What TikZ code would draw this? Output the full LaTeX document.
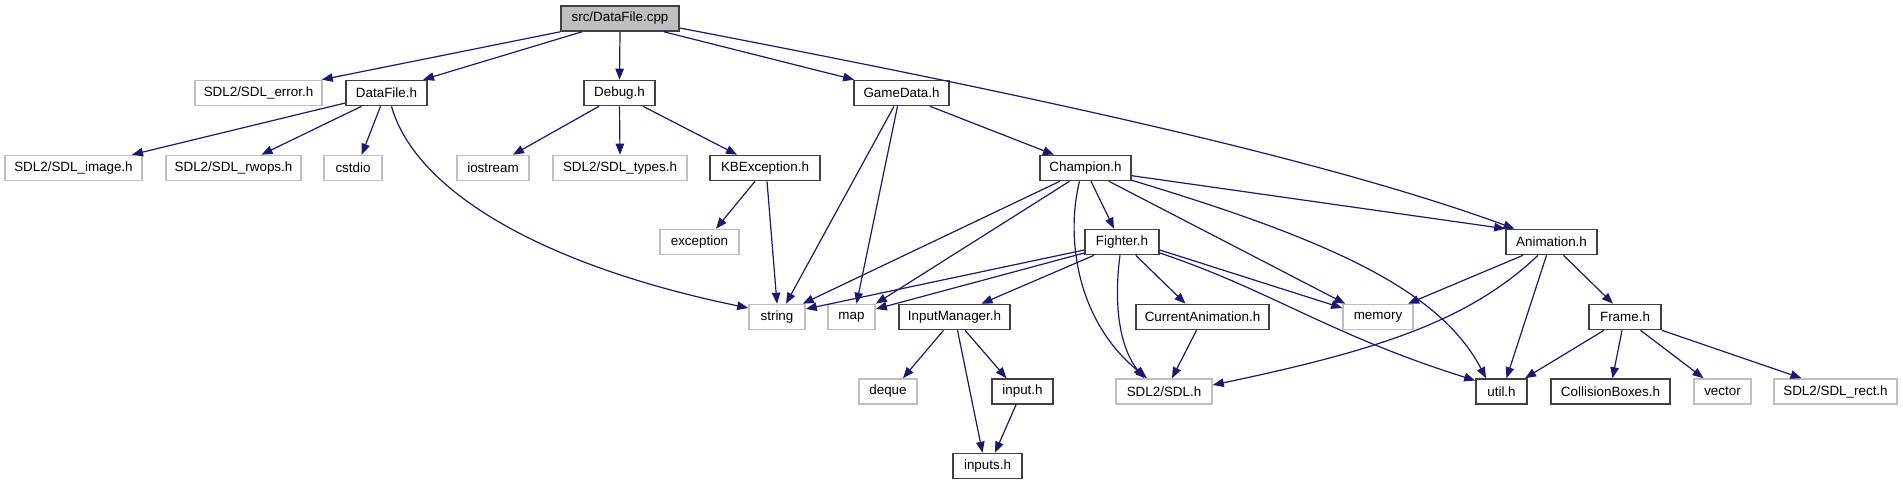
\documentclass[tikz,border=0pt]{standalone}
\usepackage{fontspec}
\setmainfont{Liberation Sans}
\usetikzlibrary{arrows.meta}
\definecolor{edgeblue}{HTML}{191970}
\definecolor{lgray}{HTML}{BFBFBF}
\definecolor{dgray}{HTML}{404040}
\begin{document}
\begin{tikzpicture}[x=1pt,y=-1pt,
  box/.style={rectangle,inner sep=0pt,minimum height=25pt,line width=1.6pt,
    font=\fontsize{13.4}{15}\selectfont,text=black},
  inc/.style={box,draw=dgray,fill=white},
  ext/.style={box,draw=lgray,fill=white},
  rootbox/.style={box,draw=dgray,fill=lgray},
  dep/.style={draw=edgeblue,line width=1.2pt,-{Triangle[length=11pt,width=8.5pt]},color=edgeblue}]
\useasboundingbox (0,0) rectangle (1903,485);
% row 1
\node[rootbox,minimum width=118pt] (root) at (620,18.5) {src/DataFile.cpp};
% row 2
\node[ext,minimum width=127pt] (err) at (258.5,93) {SDL2/SDL\_error.h};
\node[inc,minimum width=81pt] (dfh) at (386.5,93) {DataFile.h};
\node[inc,minimum width=71pt] (dbg) at (619.5,93) {Debug.h};
\node[inc,minimum width=95pt] (gd) at (901.5,93) {GameData.h};
% row 3
\node[ext,minimum width=137pt] (img) at (73.5,168) {SDL2/SDL\_image.h};
\node[ext,minimum width=135pt] (rw) at (233.5,168) {SDL2/SDL\_rwops.h};
\node[ext,minimum width=58pt] (cst) at (353,168) {cstdio};
\node[ext,minimum width=72pt] (ios) at (493,168) {iostream};
\node[ext,minimum width=134pt] (typ) at (620,168) {SDL2/SDL\_types.h};
\node[inc,minimum width=110pt] (kbe) at (765,168) {KBException.h};
\node[inc,minimum width=91pt] (chp) at (1085.5,168) {Champion.h};
% row 4
\node[ext,minimum width=79pt] (exc) at (699.5,242) {exception};
\node[inc,minimum width=74pt] (fgt) at (1122,242) {Fighter.h};
\node[inc,minimum width=91pt] (anim) at (1551.5,242) {Animation.h};
% row 5
\node[ext,minimum width=56pt] (str) at (777,317) {string};
\node[ext,minimum width=47pt] (map) at (851.5,317) {map};
\node[inc,minimum width=111pt] (inm) at (954.5,317) {InputManager.h};
\node[inc,minimum width=133pt] (cur) at (1202.5,317) {CurrentAnimation.h};
\node[ext,minimum width=70pt] (mem) at (1378,317) {memory};
\node[inc,minimum width=72pt] (frm) at (1625,317) {Frame.h};
% row 6
\node[ext,minimum width=58pt] (deq) at (888,391.5) {deque};
\node[inc,minimum width=61pt] (inp) at (1022.5,391.5) {input.h};
\node[ext,minimum width=96pt] (sdl) at (1164,391.5) {SDL2/SDL.h};
\node[inc,minimum width=51pt] (utl) at (1501.5,391.5) {util.h};
\node[inc,minimum width=119pt] (cbx) at (1610.5,391.5) {CollisionBoxes.h};
\node[ext,minimum width=57pt] (vec) at (1722.5,391.5) {vector};
\node[ext,minimum width=123pt] (rct) at (1835.5,391.5) {SDL2/SDL\_rect.h};
% row 7
\node[inc,minimum width=69pt] (ins) at (987.5,466) {inputs.h};

% edges from src/DataFile.cpp
\draw[dep] (root.south west) -- ([xshift=-1pt]err.north east);
\draw[dep] ([xshift=-38pt]root.south) -- ([xshift=36.5pt]dfh.north);
\draw[dep] (root.south) -- (dbg.north);
\draw[dep] ([xshift=44pt]root.south) -- ([xshift=1pt]gd.north west);
\draw[dep] ([yshift=-9.5pt]root.east) .. controls (950,80) and (1300,150) .. ([xshift=-37pt]anim.north);
% DataFile.h
\draw[dep] ([yshift=-10pt]dfh.west) -- ([xshift=58.5pt]img.north);
\draw[dep] ([xshift=-25pt]dfh.south) -- ([xshift=28pt]rw.north);
\draw[dep] ([xshift=-6pt]dfh.south) -- ([xshift=8.7pt]cst.north);
\draw[dep] ([xshift=5pt]dfh.south) .. controls (415,190) and (540,265) .. ([yshift=9pt]str.west);
% Debug.h
\draw[dep] ([xshift=-20.5pt]dbg.south) -- ([xshift=20pt]ios.north);
\draw[dep] (dbg.south) -- (typ.north);
\draw[dep] ([xshift=23.5pt]dbg.south) -- ([xshift=-28pt]kbe.north);
% KBException.h
\draw[dep] ([xshift=-10pt]kbe.south) -- ([xshift=16.5pt]exc.north);
\draw[dep] ([xshift=2pt]kbe.south) -- (str.north);
% GameData.h
\draw[dep] ([xshift=-7.5pt]gd.south) -- ([xshift=9pt]str.north);
\draw[dep] ([xshift=-4pt]gd.south) -- ([xshift=5pt]map.north);
\draw[dep] ([xshift=28.5pt]gd.south) -- ([xshift=-31.5pt]chp.north);
% Champion.h
\draw[dep] ([xshift=-25.7pt]chp.south) -- ([xshift=-3pt]str.north east);
\draw[dep] ([xshift=-16pt]chp.south) -- (map.north east);
\draw[dep] ([xshift=5.5pt]chp.south) -- ([xshift=-8pt]fgt.north);
\draw[dep] ([xshift=-6pt]chp.south) .. controls (1066,235) and (1075,320) .. ([xshift=-17pt]sdl.north);
\draw[dep] ([xshift=23.4pt]chp.south) -- ([xshift=3pt]mem.north west);
\draw[dep] ([yshift=1pt]chp.south east) .. controls (1330,240) and (1440,290) .. ([xshift=-15.5pt]utl.north);
\draw[dep] ([yshift=-7.7pt]chp.east) -- (anim.north west);
% Fighter.h
\draw[dep] ([yshift=-8pt]fgt.west) -- ([yshift=8pt]str.east);
\draw[dep] ([yshift=-11pt]fgt.west) -- ([yshift=8pt]map.east);
\draw[dep] ([xshift=-28pt]fgt.south) -- ([xshift=27pt]inm.north);
\draw[dep] ([xshift=-2pt]fgt.south) .. controls (1114,300) and (1118,345) .. ([xshift=-20pt]sdl.north);
\draw[dep] ([xshift=13.7pt]fgt.south) -- ([xshift=-17pt]cur.north);
\draw[dep] ([yshift=-8pt]fgt.east) -- ([yshift=9pt]mem.west);
\draw[dep] ([yshift=-11pt]fgt.east) .. controls (1270,290) and (1330,335) .. ([yshift=11pt]utl.west);
% InputManager.h
\draw[dep] ([xshift=-11pt]inm.south) -- ([xshift=15pt]deq.north);
\draw[dep] ([xshift=3pt]inm.south) -- ([xshift=-5pt]ins.north);
\draw[dep] ([xshift=10.5pt]inm.south) -- ([xshift=-16pt]inp.north);
% input.h
\draw[dep] ([xshift=-6.5pt]inp.south) -- ([xshift=7.5pt]ins.north);
% CurrentAnimation.h
\draw[dep] ([xshift=-6pt]cur.south) -- ([xshift=8pt]sdl.north);
% Animation.h
\draw[dep] ([xshift=-28.5pt]anim.south) -- ([xshift=30pt]mem.north);
\draw[dep] ([xshift=-13.5pt]anim.south) .. controls (1470,320) and (1380,350) .. ([yshift=6.5pt]sdl.east);
\draw[dep] ([xshift=-5pt]anim.south) -- ([xshift=5pt]utl.north);
\draw[dep] ([xshift=12pt]anim.south) -- ([xshift=-12pt]frm.north);
% Frame.h
\draw[dep] ([xshift=-21pt]frm.south) -- ([xshift=23.5pt]utl.north);
\draw[dep] ([xshift=-3pt]frm.south) -- ([xshift=2pt]cbx.north);
\draw[dep] ([xshift=15.5pt]frm.south) -- ([xshift=-19pt]vec.north);
\draw[dep] (frm.south east) -- ([xshift=-34pt]rct.north);
\end{tikzpicture}
\end{document}
